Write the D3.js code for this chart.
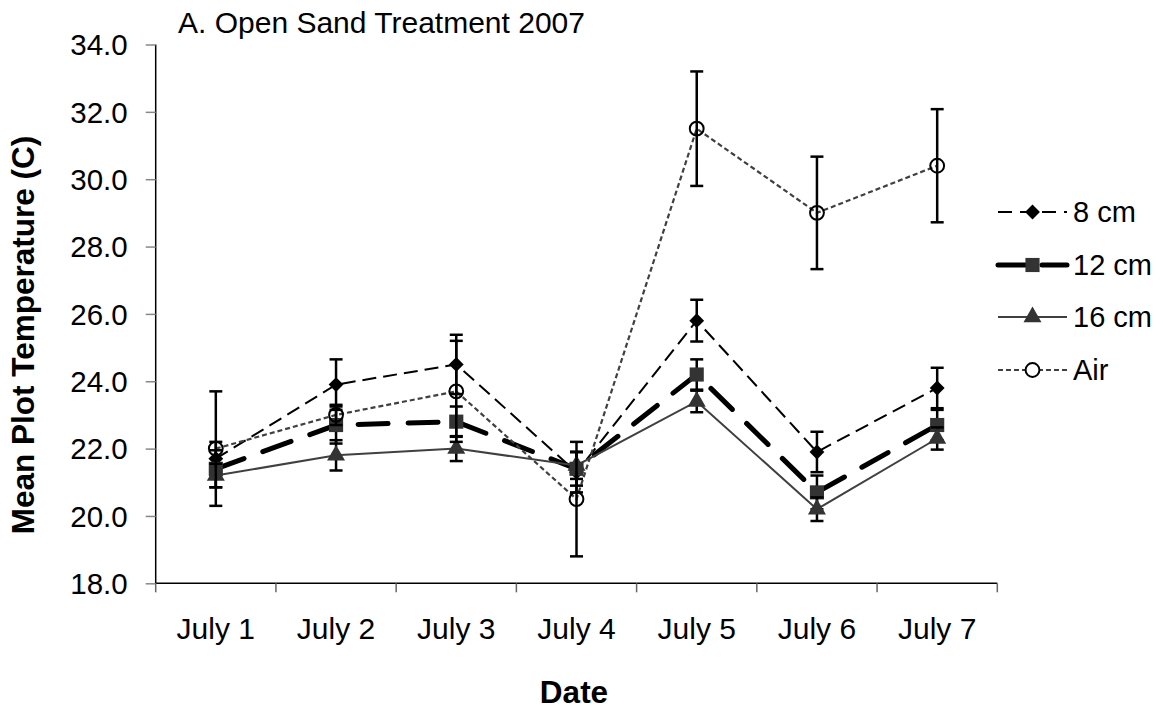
<!DOCTYPE html>
<html>
<head>
<meta charset="utf-8">
<script src="https://cdn.jsdelivr.net/npm/d3@7"></script>
<style>
  body { margin: 0; background: #fff; }
  text { font-family: "Liberation Sans", Arial, sans-serif; fill: #000; }
</style>
</head>
<body>
<div id="chart"></div>
<script>
// data
var dates = ["July 1", "July 2", "July 3", "July 4", "July 5", "July 6", "July 7"];
var yTicks = [18, 20, 22, 24, 26, 28, 30, 32, 34];

var cm8     = [21.7, 23.9, 24.5, 21.3, 25.8, 21.9, 23.8];
var cm8Err  = [0.5, 0.75, 0.88, 0.6, 0.62, 0.6, 0.6];
var cm12    = [21.4, 22.7, 22.8, 21.4, 24.2, 20.7, 22.7];
var cm12Err = [0.55, 0.55, 0.45, 0.5, 0.45, 0.5, 0.45];
var cm16    = [21.2, 21.8, 22.0, 21.5, 23.4, 20.2, 22.3];
var cm16Err = [0.35, 0.45, 0.37, 0.4, 0.32, 0.35, 0.33];
var air     = [22.0, 23.0, 23.7, 20.5, 31.5, 29.0, 30.4];
var airErr  = [1.7, 0.3, 1.5, 1.7, 1.7, 1.67, 1.68];

var series = [
    {name: "8 cm",  vals: cm8,  err: cm8Err,  stroke: "#000",    width: 2,   dash: "14,7",  legDash: "14,8",  cap: "butt",  symbol: d3.symbolDiamond2, size: 140, fill: "#000", mstroke: "none"},
    {name: "12 cm", vals: cm12, err: cm12Err, stroke: "#000",    width: 5,   dash: "30,20", legDash: "28,16", cap: "round", symbol: d3.symbolSquare,   size: 200, fill: "#333", mstroke: "none"},
    {name: "16 cm", vals: cm16, err: cm16Err, stroke: "#404040", width: 2,   dash: null,    legDash: null,    cap: "butt",  symbol: d3.symbolTriangle, size: 140, fill: "#333", mstroke: "none"},
    {name: "Air",   vals: air,  err: airErr,  stroke: "#404040", width: 2.2, dash: "5,3",   legDash: "5,3",   cap: "butt",  symbol: d3.symbolCircle,   size: 150, fill: "none", mstroke: "#000"}
];

var svgWidth = 1163, svgHeight = 711;
var margin = {top: 44.5, left: 155.7, right: 165.7, bottom: 127.7},
    width = svgWidth - margin.left - margin.right,
    height = svgHeight - margin.top - margin.bottom;

var svg = d3.select("#chart").append("svg")
    .attr("width", svgWidth)
    .attr("height", svgHeight);

var g = svg.append("g")
    .attr("transform", `translate(${margin.left}, ${margin.top})`);

var x = d3.scaleBand().domain(dates).range([0, width]);
var y = d3.scaleLinear().domain([18, 34]).range([height, 0]);

// y axis
var yAxis = g.append("g")
    .call(d3.axisLeft(y).tickValues(yTicks).tickFormat(d3.format(".1f")).tickSize(10).tickPadding(18));
yAxis.select(".domain").attr("stroke", "#000").attr("stroke-width", 1.5).attr("d", `M0,${height}V0`);
yAxis.selectAll(".tick line").attr("stroke", "#888").attr("stroke-width", 1.5);
yAxis.selectAll(".tick text").style("font-size", "29.5px").attr("dy", "0.35em");

// x axis: ticks on band edges, labels at band centres
var edges = d3.range(dates.length + 1).map(i => i * x.bandwidth());
var xAxis = g.append("g").attr("transform", `translate(0, ${height})`);
xAxis.append("line").attr("x1", 0).attr("x2", width)
    .attr("stroke", "#000").attr("stroke-width", 1.5);
xAxis.selectAll(".edge").data(edges).enter().append("line")
    .attr("class", "edge")
    .attr("x1", d => d).attr("x2", d => d)
    .attr("y1", 0).attr("y2", 9)
    .attr("stroke", "#666").attr("stroke-width", 1.5);
xAxis.selectAll(".lab").data(dates).enter().append("text")
    .attr("class", "lab")
    .attr("x", d => x(d) + x.bandwidth() / 2)
    .attr("y", 56)
    .attr("text-anchor", "middle")
    .style("font-size", "30px")
    .text(d => d);

var cx = i => x(dates[i]) + x.bandwidth() / 2;

series.forEach(s => {
    var line = d3.line().x((d, i) => cx(i)).y(d => y(d));
    g.append("path")
        .datum(s.vals)
        .attr("fill", "none")
        .attr("stroke", s.stroke)
        .attr("stroke-width", s.width)
        .attr("stroke-dasharray", s.dash)
        .attr("stroke-linecap", s.cap)
        .attr("d", line);
});

series.forEach(s => {
    var eb = g.append("g").attr("stroke", "#000").attr("stroke-width", 2.5);
    s.vals.forEach((v, i) => {
        var lo = y(v - s.err[i]), hi = y(v + s.err[i]);
        eb.append("line").attr("x1", cx(i)).attr("x2", cx(i)).attr("y1", lo).attr("y2", hi);
        eb.append("line").attr("x1", cx(i) - 6.5).attr("x2", cx(i) + 6.5).attr("y1", lo).attr("y2", lo);
        eb.append("line").attr("x1", cx(i) - 6.5).attr("x2", cx(i) + 6.5).attr("y1", hi).attr("y2", hi);
    });
    g.append("g").selectAll("path").data(s.vals).enter().append("path")
        .attr("transform", (d, i) => `translate(${cx(i)}, ${y(d)})`)
        .attr("d", d3.symbol().type(s.symbol).size(s.size))
        .attr("fill", s.fill)
        .attr("stroke", s.mstroke)
        .attr("stroke-width", 2);
});

// legend
var legend = svg.append("g").attr("transform", "translate(998, 0)");
var legY = [212, 265, 317, 370];
series.forEach((s, i) => {
    var row = legend.append("g").attr("transform", `translate(0, ${legY[i]})`);
    row.append("line").attr("x1", 0).attr("x2", 69)
        .attr("stroke", s.stroke)
        .attr("stroke-width", s.width)
        .attr("stroke-linecap", s.cap)
        .attr("stroke-dasharray", s.legDash);
    if (s.fill == "none") {
        row.append("circle").attr("cx", 34.5).attr("r", 7).attr("fill", "#fff").attr("stroke", "none");
    }
    row.append("path")
        .attr("transform", "translate(34.5, 0)")
        .attr("d", d3.symbol().type(s.symbol).size(s.size))
        .attr("fill", s.fill)
        .attr("stroke", s.mstroke)
        .attr("stroke-width", 2);
    row.append("text").attr("x", 75).attr("dy", "0.35em")
        .style("font-size", "29px")
        .text(s.name);
});

// titles
svg.append("text")
    .attr("x", 178).attr("y", 33)
    .style("font-size", "30px")
    .text("A. Open Sand Treatment 2007");

svg.append("text")
    .attr("x", 574).attr("y", 703)
    .attr("text-anchor", "middle")
    .style("font-size", "31.5px")
    .style("font-weight", "bold")
    .text("Date");

svg.append("text")
    .attr("transform", "translate(34, 335) rotate(-90)")
    .attr("text-anchor", "middle")
    .style("font-size", "31.5px")
    .style("font-weight", "bold")
    .text("Mean Plot Temperature (C)");
</script>
</body>
</html>
